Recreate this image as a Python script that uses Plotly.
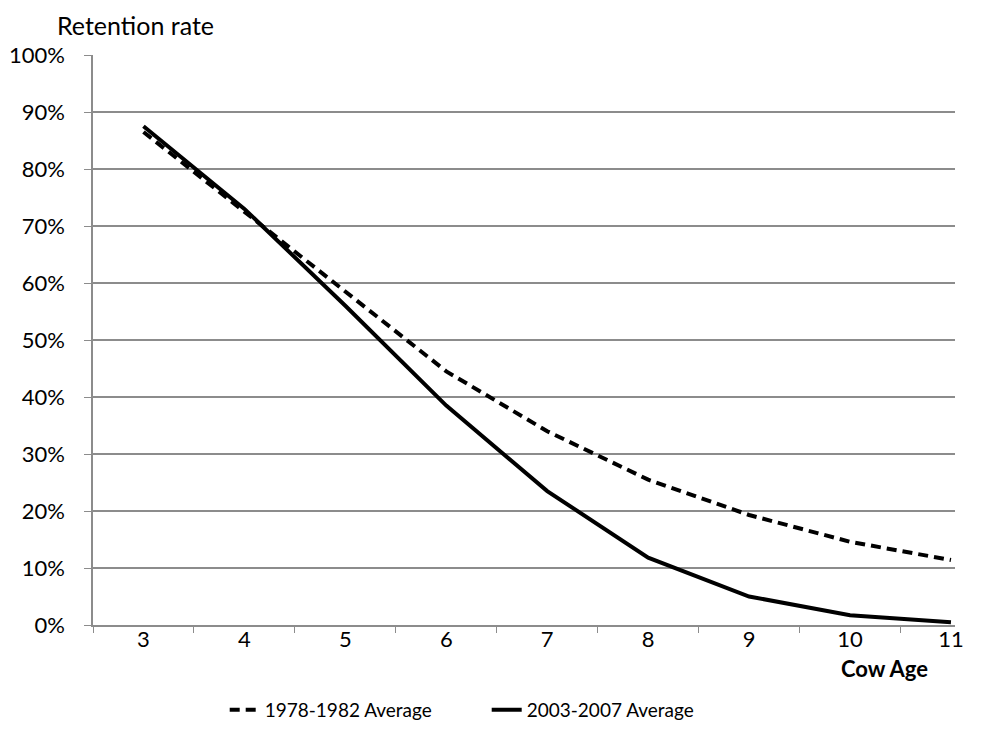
import plotly.graph_objects as go

ages = ["3", "4", "5", "6", "7", "8", "9", "10", "11"]
avg_1978_1982 = [0.865, 0.725, 0.585, 0.445, 0.34, 0.255, 0.193, 0.146, 0.114]
avg_2003_2007 = [0.875, 0.73, 0.56, 0.385, 0.235, 0.118, 0.05, 0.017, 0.005]
y_ticks = [i / 10 for i in range(11)]

FONT = "Lato, Calibri, Arial, sans-serif"
GRID = "#8c8c8c"

fig = go.Figure()
fig.add_trace(go.Scatter(x=ages, y=avg_1978_1982, mode="lines", name="1978-1982 Average",
                         line=dict(color="black", width=4, dash="10px,6px")))
fig.add_trace(go.Scatter(x=ages, y=avg_2003_2007, mode="lines", name="2003-2007 Average",
                         line=dict(color="black", width=4)))

fig.update_layout(
    width=985, height=732,
    margin=dict(l=85, r=38, t=47, b=115),
    paper_bgcolor="white", plot_bgcolor="white",
    font=dict(family=FONT, size=22, color="black"),
    showlegend=True,
    legend=dict(orientation="h", xref="container", yref="container",
                x=0.220, xanchor="left", y=0.041, yanchor="middle",
                font=dict(size=19), entrywidth=217, entrywidthmode="pixels",
                traceorder="normal"),
    xaxis=dict(type="category", range=[-0.5, 8.04], tickson="boundaries",
               ticks="outside", ticklen=6, tickcolor=GRID, tickwidth=1,
               showgrid=False, showline=True, linecolor=GRID, linewidth=1.5,
               tickfont=dict(size=22), zeroline=False, ticklabelstandoff=-6,
               automargin=False),
    yaxis=dict(range=[0, 1], tickvals=y_ticks, tickformat=".0%",
               ticks="outside", ticklen=7, tickcolor=GRID, tickwidth=1,
               showgrid=True, gridcolor=GRID, gridwidth=1.5,
               showline=True, linecolor=GRID, linewidth=1.5,
               zeroline=False, tickfont=dict(size=22), ticklabelstandoff=15,
               automargin=False),
    annotations=[
        dict(text="Retention rate", xref="paper", yref="paper", x=-0.044, y=1.0,
             xanchor="left", yanchor="middle", yshift=30, showarrow=False,
             font=dict(size=25)),
        dict(text="<b>Cow Age</b>", xref="paper", yref="paper", x=0.971, y=0,
             xanchor="right", yanchor="middle", yshift=-43, showarrow=False,
             font=dict(size=22)),
    ],
)

fig.write_html("out.html")
